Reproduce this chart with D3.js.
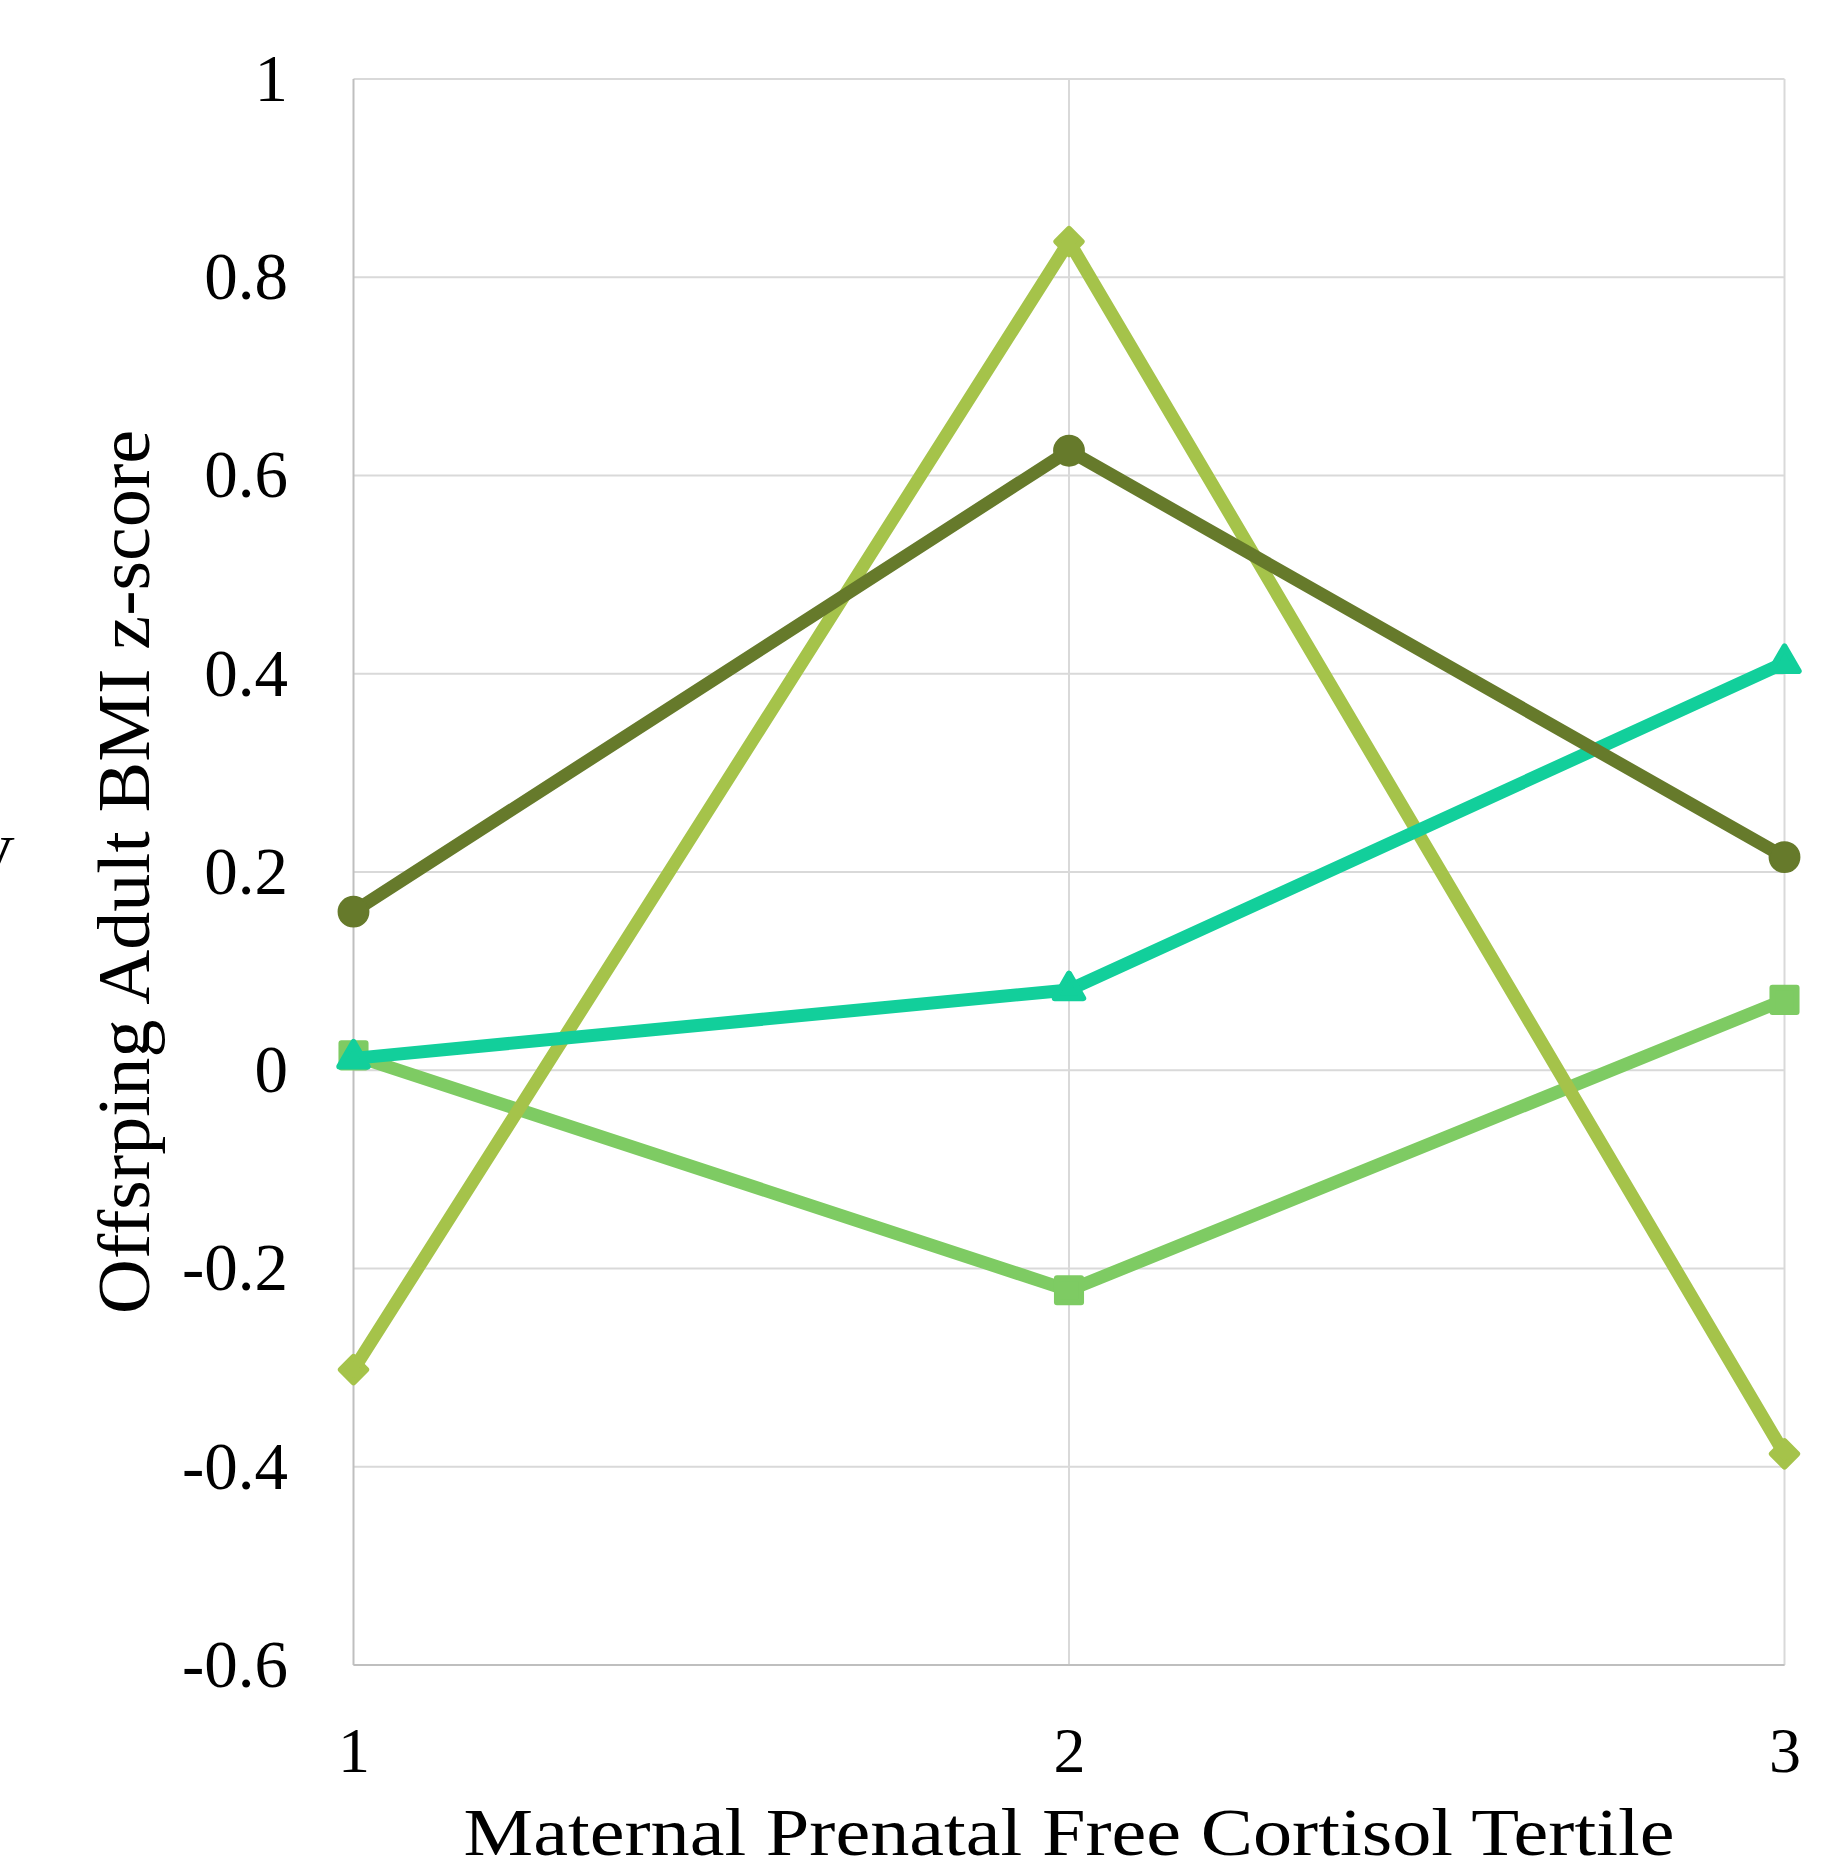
<!DOCTYPE html>
<html>
<head>
<meta charset="utf-8">
<script src="https://cdn.jsdelivr.net/npm/d3@7/dist/d3.min.js"></script>
<style>
  html, body { margin: 0; padding: 0; background: #fff; }
  svg { display: block; }
  text { font-family: "Liberation Serif", "DejaVu Serif", serif; fill: #000; }
</style>
</head>
<body>
<svg id="chart" width="1837" height="1873"></svg>
<script>
// ---- data ----
const categories = ["1", "2", "3"];
const yTickValues = [1, 0.8, 0.6, 0.4, 0.2, 0, -0.2, -0.4, -0.6];
const yTickLabels = ["1", "0.8", "0.6", "0.4", "0.2", "0", "-0.2", "-0.4", "-0.6"];
const xTitle = "Maternal Prenatal Free Cortisol Tertile";
const yTitle = "Offsrping Adult BMI z-score";

// series (drawn in this order: later ones on top)
const seriesNames = ["squares", "diamonds", "triangles", "circles"];
const squaresValues   = [0.015, -0.222, 0.071];
const diamondsValues  = [-0.302, 0.836, -0.387];
const trianglesValues = [0.012, 0.081, 0.411];
const circlesValues   = [0.160, 0.625, 0.215];
const seriesColors = ["#7ECB63", "#A5C34A", "#12CF9B", "#667A2B"];
const seriesMarkers = ["square", "diamond", "triangle", "circle"];
const seriesValues = [squaresValues, diamondsValues, trianglesValues, circlesValues];

// ---- layout ----
const svg = d3.select("#chart");
const pLeft = 353.5, pRight = 1784.5, pTop = 79, pBottom = 1665;

const x = d3.scalePoint().domain(categories).range([pLeft, pRight]);
const y = d3.scaleLinear().domain([-0.6, 1]).range([pBottom, pTop]);

// gridlines
const grid = svg.append("g");
grid.selectAll("line.h").data(yTickValues).join("line")
  .attr("x1", pLeft).attr("x2", pRight)
  .attr("y1", d => y(d)).attr("y2", d => y(d))
  .attr("stroke", "#d9d9d9").attr("stroke-width", 2);
grid.selectAll("line.v").data(categories.slice(1)).join("line")
  .attr("x1", d => x(d)).attr("x2", d => x(d))
  .attr("y1", pTop).attr("y2", pBottom)
  .attr("stroke", "#d9d9d9").attr("stroke-width", 2);
// axis lines
grid.append("line").attr("x1", pLeft).attr("x2", pLeft).attr("y1", pTop).attr("y2", pBottom)
  .attr("stroke", "#bfbfbf").attr("stroke-width", 2);
grid.append("line").attr("x1", pLeft).attr("x2", pRight).attr("y1", pBottom).attr("y2", pBottom)
  .attr("stroke", "#bfbfbf").attr("stroke-width", 2);

// y axis
const yAxis = d3.axisLeft(y).tickValues(yTickValues)
  .tickFormat((d, i) => yTickLabels[i]).tickSize(0).tickPadding(pLeft - 288);
const gy = svg.append("g").attr("transform", `translate(${pLeft},0)`).call(yAxis);
gy.select(".domain").remove();
gy.selectAll("text").attr("font-family", "Liberation Serif, serif").attr("font-size", 67).attr("fill", "#000");

// x axis
const xAxis = d3.axisBottom(x).tickSize(0).tickPadding(62);
const gx = svg.append("g").attr("transform", `translate(0,${pBottom})`).call(xAxis);
gx.select(".domain").remove();
gx.selectAll("text").attr("font-family", "Liberation Serif, serif").attr("font-size", 64).attr("fill", "#000");

// titles
svg.append("text").attr("x", (pLeft + pRight) / 2).attr("y", 1855)
  .attr("text-anchor", "middle").attr("font-size", 68)
  .attr("textLength", 1211).attr("lengthAdjust", "spacingAndGlyphs").text(xTitle);
svg.append("text").attr("transform", "translate(149,872) rotate(-90)")
  .attr("text-anchor", "middle").attr("font-size", 74)
  .attr("textLength", 884).attr("lengthAdjust", "spacingAndGlyphs").text(yTitle);
// clipped stray character at far left (cut off in the reference too)
svg.append("text").attr("x", 15).attr("y", 878).attr("text-anchor", "end")
  .attr("font-size", 62).text("V");

// series
const line = d3.line().x((d, i) => x(categories[i])).y(d => y(d));
const symbolOf = {
  circle:   d3.symbol().type(d3.symbolCircle).size(700),
  square:   d3.symbol().type(d3.symbolSquare).size(580),
  diamond:  d3.symbol().type(d3.symbolSquare).size(320),
  triangle: d3.symbol().type(d3.symbolTriangle).size(350)
};

seriesValues.forEach((vals, si) => {
  const g = svg.append("g").attr("class", seriesNames[si]);
  const col = seriesColors[si];
  g.append("path").datum(vals).attr("d", line)
    .attr("fill", "none").attr("stroke", col).attr("stroke-width", 13)
    .attr("stroke-linejoin", "round").attr("stroke-linecap", "round");
  const mk = seriesMarkers[si];
  g.selectAll("path.mk").data(vals).join("path").attr("class", "mk")
    .attr("d", symbolOf[mk])
    .attr("transform", (d, i) => `translate(${x(categories[i])},${y(d)})` + (mk === "diamond" ? " rotate(45)" : ""))
    .attr("fill", col).attr("stroke", col)
    .attr("stroke-width", mk === "circle" ? 2 : 6).attr("stroke-linejoin", "round");
});
</script>
</body>
</html>
